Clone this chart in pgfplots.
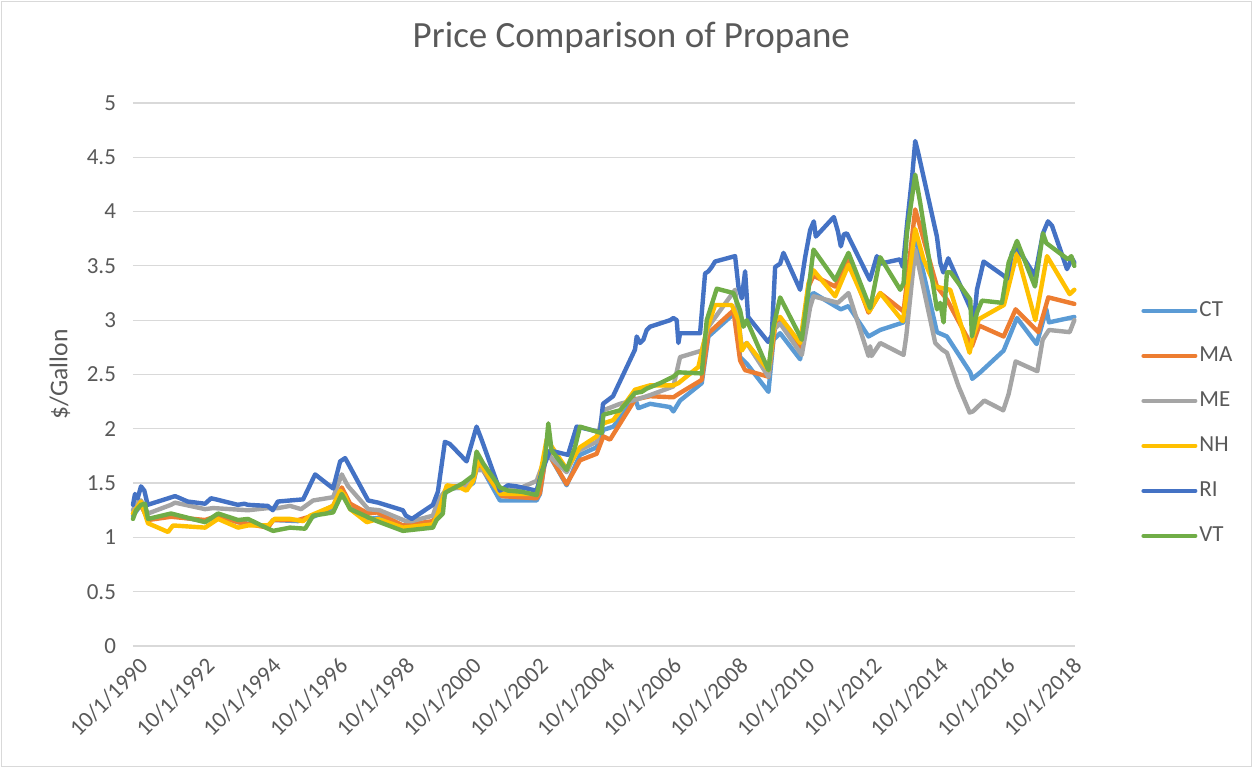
\documentclass[border=0pt]{standalone}
\usepackage{pgfplots}
\pgfplotsset{compat=1.18}
\usepackage{fontspec}
\setmainfont{Carlito}
\definecolor{cCT}{HTML}{5B9BD5}
\definecolor{cMA}{HTML}{ED7D31}
\definecolor{cME}{HTML}{A5A5A5}
\definecolor{cNH}{HTML}{FFC000}
\definecolor{cRI}{HTML}{4472C4}
\definecolor{cVT}{HTML}{70AD47}
\definecolor{txt}{HTML}{595959}
\definecolor{gridc}{HTML}{D9D9D9}
\begin{document}
\begin{tikzpicture}
\path[use as bounding box] (-66.5pt,-61.5pt) rectangle (560pt,323pt);
\draw[gridc, line width=0.5pt] (-65.5pt,-60.5pt) rectangle (559pt,322pt);
\begin{axis}[
  scale only axis, width=471pt, height=271.5pt,
  xmin=1990.66, xmax=2018.9, ymin=0, ymax=5,
  clip=false,
  axis line style={draw=none},
  major tick length=0pt,
  ytick={0,0.5,1,1.5,2,2.5,3,3.5,4,4.5,5},
  yticklabels={0,0.5,1,1.5,2,2.5,3,3.5,4,4.5,5},
  xtick={1990.75,1992.75,1994.75,1996.75,1998.75,2000.75,2002.75,2004.75,2006.75,2008.75,2010.75,2012.75,2014.75,2016.75,2018.75},
  xticklabels={10/1/1990,10/1/1992,10/1/1994,10/1/1996,10/1/1998,10/1/2000,10/1/2002,10/1/2004,10/1/2006,10/1/2008,10/1/2010,10/1/2012,10/1/2014,10/1/2016,10/1/2018},
  ymajorgrids, grid style={gridc, line width=0.6pt},
  /pgf/number format/assume math mode=true,
  tick label style={font=\fontsize{11.5}{13}\selectfont, text=txt},
  yticklabel style={xshift=-5pt},
  xticklabel style={rotate=45, anchor=east, xshift=0.5pt, yshift=-8.5pt},
  title={Price Comparison of Propane},
  title style={at={(axis description cs:0.529,1.081)}, anchor=base, font=\fontsize{18.5}{22}\selectfont, text=txt},
  ylabel={\$/Gallon},
  ylabel style={at={(axis description cs:-0.0775,0.5)}, anchor=center, font=\fontsize{12.8}{15}\selectfont, text=txt},
  legend cell align=left,
  legend style={at={(axis description cs:1.0637,0.41)}, anchor=west, draw=none, fill=none,
    font=\fontsize{11.5}{13}\selectfont, text=txt, row sep=10.5pt,
    nodes={inner sep=1pt, text height=8pt, text depth=2pt}},
  legend image code/.code={\draw[#1, line width=2pt, line cap=round] (0pt,0pt) -- (26pt,0pt);},
  every axis plot/.append style={line width=2.2pt, line join=round, line cap=round},
]
% CT
\addplot[cCT] coordinates {
(1990.66,1.20)(1990.90,1.30)(1991.11,1.17)(1991.80,1.20)(1992.82,1.15)(1993.21,1.20)(1993.81,1.14)
(1994.71,1.10)(1994.86,1.16)(1995.61,1.15)(1996.06,1.19)(1996.66,1.27)(1996.92,1.40)(1997.17,1.29)
(1997.71,1.17)(1998.01,1.18)(1998.75,1.10)(1999.65,1.13)(1999.90,1.28)(2000.07,1.45)(2000.66,1.46)
(2000.86,1.50)(2001.01,1.70)(2001.66,1.34)(2002.76,1.34)(2002.86,1.40)(2003.06,1.80)(2003.66,1.48)
(2004.06,1.76)(2004.56,1.83)(2004.76,1.99)(2005.06,2.02)(2005.71,2.28)(2005.81,2.19)(2006.16,2.23)
(2006.76,2.20)(2006.86,2.16)(2007.06,2.26)(2007.71,2.42)(2007.91,2.85)(2008.71,3.07)(2008.86,2.66)
(2009.06,2.60)(2009.71,2.34)(2009.86,2.82)(2010.06,2.88)(2010.66,2.64)(2010.91,3.21)(2011.06,3.25)
(2011.71,3.13)(2011.88,3.10)(2012.11,3.13)(2012.71,2.85)(2013.06,2.91)(2013.76,2.98)(2014.06,3.80)
(2014.16,3.70)(2014.76,2.89)(2015.06,2.85)(2015.76,2.52)(2015.82,2.46)(2016.06,2.52)(2016.76,2.72)
(2017.16,3.02)(2017.75,2.78)(2018.04,3.10)(2018.12,2.98)(2018.88,3.03)};
\addlegendentry{CT}
% MA
\addplot[cMA] coordinates {
(1990.66,1.22)(1990.90,1.30)(1991.11,1.16)(1991.80,1.19)(1992.82,1.16)(1993.21,1.20)(1993.81,1.14)
(1994.71,1.09)(1994.86,1.16)(1995.61,1.16)(1996.06,1.20)(1996.66,1.29)(1996.92,1.46)(1997.17,1.31)
(1997.71,1.22)(1997.97,1.23)(1998.75,1.11)(1999.65,1.15)(1999.90,1.30)(2000.07,1.47)(2000.66,1.47)
(2000.86,1.53)(2001.01,1.68)(2001.72,1.38)(2002.76,1.36)(2002.86,1.41)(2003.06,1.80)(2003.66,1.49)
(2004.06,1.71)(2004.56,1.77)(2004.76,1.93)(2004.96,1.90)(2005.71,2.27)(2006.16,2.30)(2006.86,2.29)
(2007.06,2.33)(2007.71,2.45)(2007.91,2.88)(2008.66,3.09)(2008.86,2.63)(2009.01,2.54)(2009.71,2.48)
(2009.91,2.94)(2010.06,3.00)(2010.66,2.74)(2010.91,3.31)(2011.06,3.41)(2011.71,3.31)(2012.11,3.56)
(2012.71,3.07)(2013.06,3.25)(2013.76,3.08)(2014.11,4.02)(2014.76,3.31)(2015.06,3.19)(2015.81,2.76)
(2016.03,2.95)(2016.76,2.85)(2017.12,3.10)(2017.80,2.89)(2018.10,3.21)(2018.88,3.15)};
\addlegendentry{MA}
% ME
\addplot[cME] coordinates {
(1990.66,1.25)(1990.75,1.32)(1990.90,1.34)(1991.11,1.22)(1991.80,1.30)(1991.92,1.32)(1992.82,1.26)
(1993.06,1.27)(1994.11,1.25)(1994.71,1.27)(1995.01,1.27)(1995.37,1.29)(1995.70,1.26)(1996.06,1.34)
(1996.66,1.37)(1996.92,1.58)(1997.02,1.52)(1997.11,1.47)(1997.71,1.26)(1998.05,1.25)(1998.84,1.15)
(1999.02,1.15)(1999.65,1.20)(1999.80,1.34)(2000.07,1.45)(2000.66,1.46)(2000.96,1.62)(2001.16,1.62)
(2001.66,1.43)(2002.31,1.46)(2002.76,1.52)(2003.06,1.77)(2003.66,1.60)(2003.96,1.79)(2004.56,1.88)
(2004.76,2.17)(2005.26,2.23)(2005.76,2.27)(2006.16,2.31)(2006.86,2.39)(2007.06,2.66)(2007.71,2.72)
(2007.91,2.94)(2008.71,3.28)(2008.81,3.00)(2008.91,2.75)(2009.06,2.79)(2009.71,2.48)(2009.86,2.91)
(2010.06,2.97)(2010.71,2.68)(2010.96,3.12)(2011.06,3.22)(2011.79,3.16)(2012.11,3.25)(2012.71,2.67)
(2012.76,2.76)(2012.80,2.67)(2013.06,2.79)(2013.76,2.68)(2013.84,2.85)(2014.11,3.65)(2014.71,2.79)
(2014.91,2.73)(2015.06,2.70)(2015.41,2.39)(2015.74,2.15)(2015.84,2.16)(2016.18,2.26)(2016.75,2.17)
(2016.91,2.32)(2017.12,2.62)(2017.77,2.53)(2017.93,2.82)(2018.12,2.91)(2018.74,2.89)(2018.88,3.00)};
\addlegendentry{ME}
% NH
\addplot[cNH] coordinates {
(1990.66,1.22)(1990.90,1.33)(1991.11,1.13)(1991.71,1.05)(1991.86,1.11)(1992.82,1.09)(1993.21,1.17)
(1993.81,1.09)(1994.11,1.11)(1994.71,1.11)(1994.90,1.17)(1995.37,1.17)(1995.76,1.15)(1995.97,1.20)
(1996.66,1.29)(1996.87,1.43)(1997.02,1.38)(1997.17,1.26)(1997.67,1.14)(1998.01,1.17)(1998.75,1.09)
(1999.65,1.12)(1999.80,1.22)(2000.07,1.48)(2000.46,1.46)(2000.66,1.43)(2000.86,1.52)(2001.01,1.71)
(2001.66,1.40)(2002.76,1.40)(2003.06,1.90)(2003.16,1.86)(2003.66,1.63)(2004.06,1.83)(2004.56,1.93)
(2004.76,2.05)(2005.06,2.08)(2005.71,2.36)(2006.16,2.40)(2006.86,2.40)(2007.01,2.42)(2007.61,2.57)
(2007.86,2.91)(2008.11,3.14)(2008.61,3.14)(2008.81,3.00)(2008.91,2.72)(2009.06,2.79)(2009.71,2.54)
(2009.91,3.00)(2010.06,3.03)(2010.66,2.79)(2010.91,3.34)(2011.06,3.46)(2011.71,3.22)(2012.11,3.51)
(2012.73,3.08)(2013.06,3.25)(2013.74,2.99)(2014.11,3.84)(2014.36,3.56)(2014.71,3.31)(2015.16,3.28)
(2015.74,2.70)(2015.84,2.85)(2016.02,3.01)(2016.77,3.14)(2017.16,3.62)(2017.71,3.00)(2018.06,3.59)
(2018.74,3.24)(2018.88,3.28)};
\addlegendentry{NH}
% RI
\addplot[cRI] coordinates {
(1990.66,1.30)(1990.72,1.40)(1990.80,1.36)(1990.90,1.47)(1991.00,1.43)(1991.10,1.30)(1991.92,1.38)
(1992.00,1.37)(1992.30,1.33)(1992.82,1.31)(1993.00,1.36)(1993.15,1.35)(1993.80,1.30)(1994.00,1.31)
(1994.10,1.30)(1994.70,1.29)(1994.85,1.25)(1995.00,1.33)(1995.37,1.34)(1995.76,1.35)(1996.12,1.58)
(1996.66,1.45)(1996.87,1.70)(1997.02,1.73)(1997.11,1.68)(1997.71,1.34)(1998.01,1.32)(1998.75,1.25)
(1998.84,1.20)(1999.02,1.17)(1999.65,1.30)(1999.80,1.42)(2000.01,1.88)(2000.16,1.86)(2000.66,1.70)
(2000.96,2.02)(2001.11,1.90)(2001.66,1.43)(2001.90,1.48)(2002.16,1.47)(2002.76,1.43)(2002.91,1.60)
(2003.16,1.80)(2003.70,1.76)(2003.96,2.02)(2004.66,1.97)(2004.75,2.23)(2005.05,2.30)(2005.71,2.73)
(2005.76,2.85)(2005.86,2.79)(2005.96,2.82)(2006.06,2.91)(2006.16,2.94)(2006.76,3.00)(2006.86,3.02)
(2006.96,3.00)(2007.01,2.79)(2007.06,2.88)(2007.66,2.88)(2007.81,3.43)(2007.91,3.45)(2008.01,3.49)
(2008.11,3.54)(2008.71,3.59)(2008.81,3.31)(2008.91,3.20)(2009.01,3.45)(2009.10,3.03)(2009.70,2.80)
(2009.81,2.86)(2009.91,3.49)(2010.06,3.52)(2010.16,3.62)(2010.66,3.28)(2010.81,3.58)(2010.96,3.83)
(2011.07,3.91)(2011.13,3.77)(2011.67,3.95)(2011.79,3.82)(2011.88,3.68)(2011.97,3.79)(2012.06,3.80)
(2012.75,3.37)(2012.96,3.59)(2013.05,3.52)(2013.65,3.56)(2013.74,3.49)(2013.87,3.90)(2014.02,4.33)
(2014.11,4.65)(2014.20,4.54)(2014.76,3.77)(2014.86,3.53)(2014.95,3.44)(2015.10,3.57)(2015.82,3.07)
(2015.86,2.95)(2015.96,3.28)(2016.16,3.54)(2016.76,3.41)(2016.86,3.38)(2017.01,3.62)(2017.16,3.67)
(2017.70,3.41)(2017.94,3.80)(2018.09,3.91)(2018.21,3.87)(2018.66,3.47)(2018.81,3.57)(2018.88,3.53)};
\addlegendentry{RI}
% VT
\addplot[cVT] coordinates {
(1990.66,1.17)(1990.75,1.25)(1990.90,1.30)(1991.02,1.31)(1991.11,1.17)(1991.80,1.22)(1992.82,1.14)
(1993.21,1.22)(1993.81,1.16)(1994.11,1.17)(1994.71,1.08)(1994.86,1.06)(1995.37,1.09)(1995.82,1.08)
(1996.06,1.20)(1996.66,1.23)(1996.92,1.40)(1997.17,1.26)(1997.97,1.15)(1998.75,1.06)(1999.65,1.09)
(1999.76,1.16)(1999.95,1.22)(2000.01,1.41)(2000.56,1.50)(2000.86,1.57)(2000.96,1.79)(2001.16,1.68)
(2001.66,1.46)(2001.91,1.43)(2002.31,1.42)(2002.76,1.39)(2003.01,1.71)(2003.11,2.05)(2003.21,1.80)
(2003.66,1.62)(2003.91,1.83)(2004.06,2.02)(2004.71,1.96)(2004.76,2.13)(2005.26,2.17)(2005.71,2.33)
(2005.91,2.34)(2006.06,2.37)(2006.46,2.42)(2006.86,2.48)(2007.01,2.52)(2007.71,2.51)(2007.86,3.00)
(2008.16,3.29)(2008.66,3.25)(2008.86,3.09)(2008.96,2.94)(2009.06,3.00)(2009.71,2.54)(2009.86,2.94)
(2010.06,3.21)(2010.16,3.15)(2010.71,2.82)(2010.91,3.28)(2011.06,3.65)(2011.71,3.37)(2012.11,3.62)
(2012.76,3.11)(2013.06,3.58)(2013.66,3.28)(2013.76,3.34)(2013.86,3.80)(2014.11,4.34)(2014.26,4.08)
(2014.76,3.10)(2014.86,3.16)(2014.96,2.98)(2015.06,3.44)(2015.17,3.44)(2015.76,3.19)(2015.81,2.85)
(2015.96,3.07)(2016.11,3.18)(2016.71,3.16)(2016.91,3.53)(2017.16,3.73)(2017.70,3.31)(2017.94,3.80)
(2018.04,3.71)(2018.69,3.56)(2018.79,3.59)(2018.88,3.50)};
\addlegendentry{VT}
\end{axis}
\end{tikzpicture}
\end{document}
